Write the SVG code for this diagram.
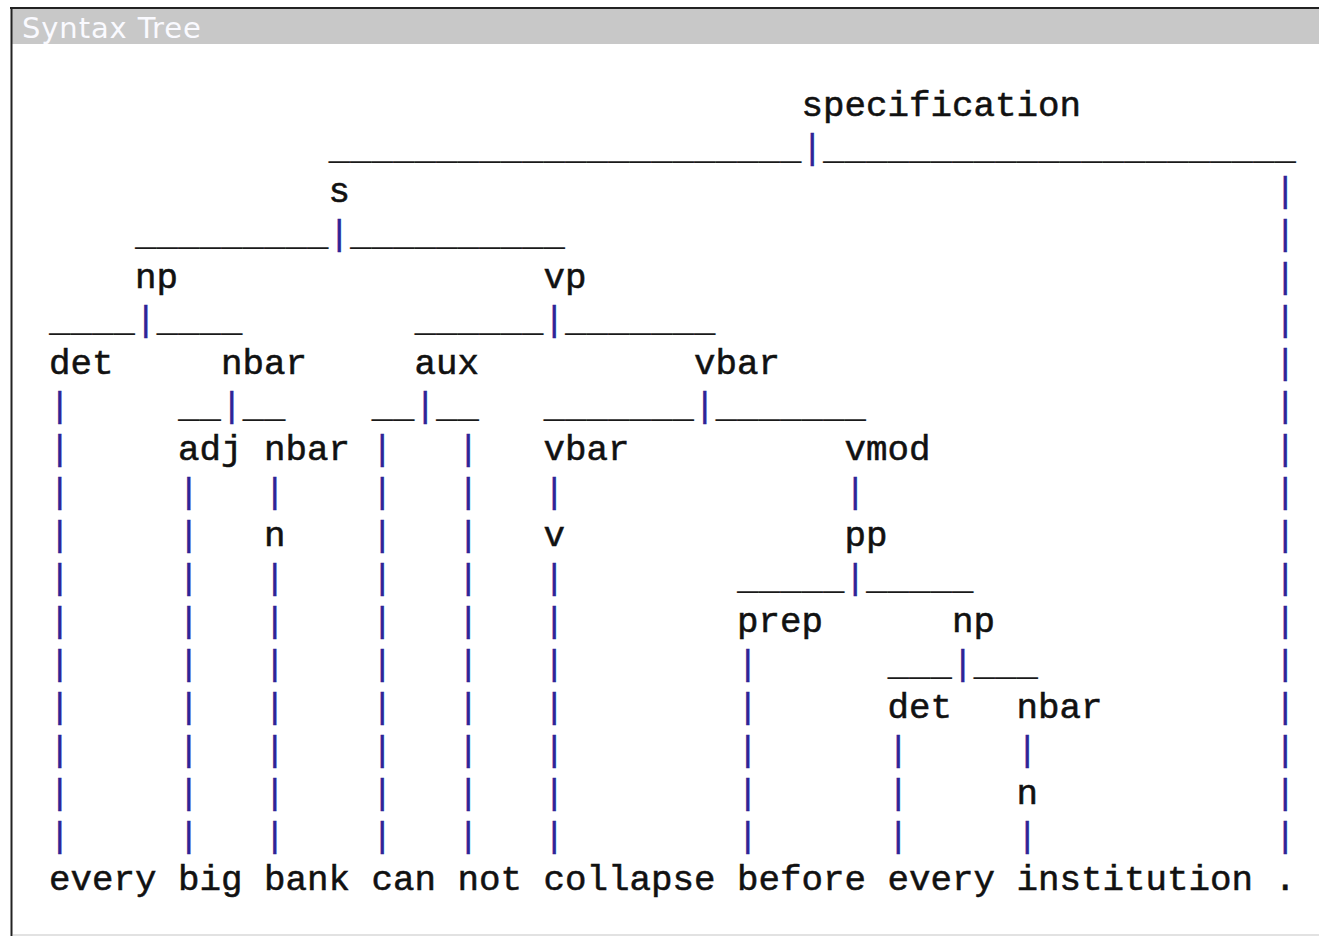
<svg xmlns="http://www.w3.org/2000/svg" width="1319" height="936" viewBox="0 0 1319 936">
<style>
.t{font-family:"Liberation Mono","DejaVu Sans Mono",monospace;font-size:35.83px;fill:#111;stroke:#111;stroke-width:0.55px;}
.u{font-family:"Liberation Mono","DejaVu Sans Mono",monospace;font-size:35.83px;fill:#1a1a1a;white-space:pre;}
.p{font-family:"Liberation Mono","DejaVu Sans Mono",monospace;font-size:35.83px;fill:#2e2496;stroke:#2e2496;stroke-width:0.4px;}
.title{font-family:"DejaVu Sans","Liberation Sans",sans-serif;font-size:29px;fill:#fafaff;letter-spacing:0.9px;}
</style>
<rect x="0" y="0" width="1319" height="936" fill="#ffffff"/>
<rect x="12" y="9" width="1307" height="35" fill="#c8c8c8"/>
<line x1="11.5" y1="7" x2="11.5" y2="936" stroke="#222" stroke-width="2"/>
<line x1="10" y1="8" x2="1319" y2="8" stroke="#222" stroke-width="2"/>
<line x1="13" y1="935" x2="1319" y2="935" stroke="#d8d8d8" stroke-width="1.5"/>
<text class="title" x="22" y="38">Syntax Tree</text>

<g id="connectors">
  <text class="u" x="328.5" y="159">______________________<tspan class="p">|</tspan>______________________</text>
  <text class="u" x="135" y="245">_________<tspan class="p">|</tspan>__________</text>
  <text class="u" x="49" y="331">____<tspan class="p">|</tspan>____</text>
  <text class="u" x="414.5" y="331">______<tspan class="p">|</tspan>_______</text>
  <text class="u" x="178" y="417">__<tspan class="p">|</tspan>__</text>
  <text class="u" x="371.5" y="417">__<tspan class="p">|</tspan>__</text>
  <text class="u" x="543.5" y="417">_______<tspan class="p">|</tspan>_______</text>
  <text class="u" x="737" y="589">_____<tspan class="p">|</tspan>_____</text>
  <text class="u" x="887.5" y="675">___<tspan class="p">|</tspan>___</text>

  <g id="pipes-c0">
    <text class="p" x="49" y="417">|</text><text class="p" x="49" y="460">|</text><text class="p" x="49" y="503">|</text><text class="p" x="49" y="546">|</text><text class="p" x="49" y="589">|</text><text class="p" x="49" y="632">|</text><text class="p" x="49" y="675">|</text><text class="p" x="49" y="718">|</text><text class="p" x="49" y="761">|</text><text class="p" x="49" y="804">|</text><text class="p" x="49" y="847">|</text>
  </g>
  <g id="pipes-c6">
    <text class="p" x="178" y="503">|</text><text class="p" x="178" y="546">|</text><text class="p" x="178" y="589">|</text><text class="p" x="178" y="632">|</text><text class="p" x="178" y="675">|</text><text class="p" x="178" y="718">|</text><text class="p" x="178" y="761">|</text><text class="p" x="178" y="804">|</text><text class="p" x="178" y="847">|</text>
  </g>
  <g id="pipes-c10">
    <text class="p" x="264" y="503">|</text><text class="p" x="264" y="589">|</text><text class="p" x="264" y="632">|</text><text class="p" x="264" y="675">|</text><text class="p" x="264" y="718">|</text><text class="p" x="264" y="761">|</text><text class="p" x="264" y="804">|</text><text class="p" x="264" y="847">|</text>
  </g>
  <g id="pipes-c15">
    <text class="p" x="371.5" y="460">|</text><text class="p" x="371.5" y="503">|</text><text class="p" x="371.5" y="546">|</text><text class="p" x="371.5" y="589">|</text><text class="p" x="371.5" y="632">|</text><text class="p" x="371.5" y="675">|</text><text class="p" x="371.5" y="718">|</text><text class="p" x="371.5" y="761">|</text><text class="p" x="371.5" y="804">|</text><text class="p" x="371.5" y="847">|</text>
  </g>
  <g id="pipes-c19">
    <text class="p" x="457.5" y="460">|</text><text class="p" x="457.5" y="503">|</text><text class="p" x="457.5" y="546">|</text><text class="p" x="457.5" y="589">|</text><text class="p" x="457.5" y="632">|</text><text class="p" x="457.5" y="675">|</text><text class="p" x="457.5" y="718">|</text><text class="p" x="457.5" y="761">|</text><text class="p" x="457.5" y="804">|</text><text class="p" x="457.5" y="847">|</text>
  </g>
  <g id="pipes-c23">
    <text class="p" x="543.5" y="503">|</text><text class="p" x="543.5" y="589">|</text><text class="p" x="543.5" y="632">|</text><text class="p" x="543.5" y="675">|</text><text class="p" x="543.5" y="718">|</text><text class="p" x="543.5" y="761">|</text><text class="p" x="543.5" y="804">|</text><text class="p" x="543.5" y="847">|</text>
  </g>
  <g id="pipes-c32">
    <text class="p" x="737" y="675">|</text><text class="p" x="737" y="718">|</text><text class="p" x="737" y="761">|</text><text class="p" x="737" y="804">|</text><text class="p" x="737" y="847">|</text>
  </g>
  <g id="pipes-c37">
    <text class="p" x="844.5" y="503">|</text>
  </g>
  <g id="pipes-c39">
    <text class="p" x="887.5" y="761">|</text><text class="p" x="887.5" y="804">|</text><text class="p" x="887.5" y="847">|</text>
  </g>
  <g id="pipes-c45">
    <text class="p" x="1016.5" y="761">|</text><text class="p" x="1016.5" y="847">|</text>
  </g>
  <g id="pipes-c57">
    <text class="p" x="1274.5" y="202">|</text><text class="p" x="1274.5" y="245">|</text><text class="p" x="1274.5" y="288">|</text><text class="p" x="1274.5" y="331">|</text><text class="p" x="1274.5" y="374">|</text><text class="p" x="1274.5" y="417">|</text><text class="p" x="1274.5" y="460">|</text><text class="p" x="1274.5" y="503">|</text><text class="p" x="1274.5" y="546">|</text><text class="p" x="1274.5" y="589">|</text><text class="p" x="1274.5" y="632">|</text><text class="p" x="1274.5" y="675">|</text><text class="p" x="1274.5" y="718">|</text><text class="p" x="1274.5" y="761">|</text><text class="p" x="1274.5" y="804">|</text><text class="p" x="1274.5" y="847">|</text>
  </g>
</g>

<g id="node-specification"><text class="t" x="801.5" y="116">specification</text></g>
<g id="node-s"><text class="t" x="328.5" y="202">s</text></g>
<g id="node-np1"><text class="t" x="135" y="288">np</text></g>
<g id="node-vp"><text class="t" x="543.5" y="288">vp</text></g>
<g id="node-det1"><text class="t" x="49" y="374">det</text></g>
<g id="node-nbar1"><text class="t" x="221" y="374">nbar</text></g>
<g id="node-aux"><text class="t" x="414.5" y="374">aux</text></g>
<g id="node-vbar1"><text class="t" x="694" y="374">vbar</text></g>
<g id="node-adj"><text class="t" x="178" y="460">adj</text></g>
<g id="node-nbar2"><text class="t" x="264" y="460">nbar</text></g>
<g id="node-vbar2"><text class="t" x="543.5" y="460">vbar</text></g>
<g id="node-vmod"><text class="t" x="844.5" y="460">vmod</text></g>
<g id="node-n1"><text class="t" x="264" y="546">n</text></g>
<g id="node-v"><text class="t" x="543.5" y="546">v</text></g>
<g id="node-pp"><text class="t" x="844.5" y="546">pp</text></g>
<g id="node-prep"><text class="t" x="737" y="632">prep</text></g>
<g id="node-np2"><text class="t" x="952" y="632">np</text></g>
<g id="node-det2"><text class="t" x="887.5" y="718">det</text></g>
<g id="node-nbar3"><text class="t" x="1016.5" y="718">nbar</text></g>
<g id="node-n2"><text class="t" x="1016.5" y="804">n</text></g>

<g id="leaf-every1"><text class="t" x="49" y="890">every</text></g>
<g id="leaf-big"><text class="t" x="178" y="890">big</text></g>
<g id="leaf-bank"><text class="t" x="264" y="890">bank</text></g>
<g id="leaf-can"><text class="t" x="371.5" y="890">can</text></g>
<g id="leaf-not"><text class="t" x="457.5" y="890">not</text></g>
<g id="leaf-collapse"><text class="t" x="543.5" y="890">collapse</text></g>
<g id="leaf-before"><text class="t" x="737" y="890">before</text></g>
<g id="leaf-every2"><text class="t" x="887.5" y="890">every</text></g>
<g id="leaf-institution"><text class="t" x="1016.5" y="890">institution</text></g>
<g id="leaf-period"><text class="t" x="1274.5" y="890">.</text></g>
</svg>
